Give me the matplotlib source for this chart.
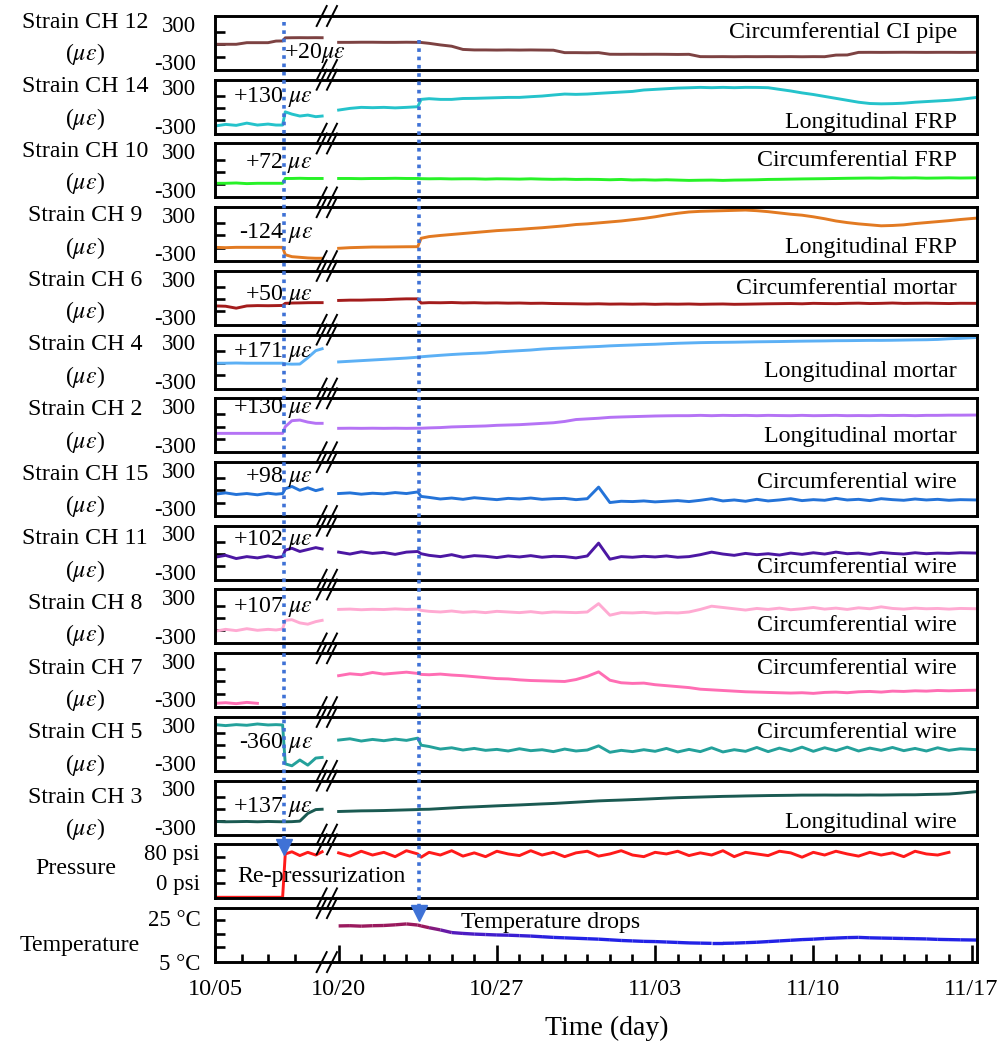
#!/usr/bin/env python3
"""
Strain, pressure and temperature records of the lined pipe (broken time axis).
"""

import numpy as np
import matplotlib
matplotlib.use("Agg")
import matplotlib.pyplot as plt
from matplotlib import transforms
from matplotlib.lines import Line2D
from matplotlib.collections import LineCollection
from matplotlib.colors import LinearSegmentedColormap, Normalize

nan = np.nan

# time in days since 10/05; left block 10/05-10/09, right block 10/20-11/17
t_left = [0, 0.4, 0.8, 1.2, 1.6, 2.0, 2.3, 2.55, 2.65, 2.9, 3.2, 3.5, 3.8, 4.04]
t_right = [15, 15.5, 16, 16.5, 17, 17.5, 18, 18.5, 18.65, 19, 19.5, 20, 20.5, 21,
           21.5, 22, 22.5, 23, 23.5, 24, 24.5, 25, 25.5, 26, 26.5, 27, 27.5, 28,
           28.5, 29, 29.5, 30, 30.5, 31, 31.5, 32, 32.5, 33, 33.5, 34, 34.5, 35,
           35.5, 36, 36.5, 37, 37.5, 38, 38.5, 39, 39.5, 40, 40.5, 41, 41.5, 42,
           42.5, 43.24]

t_repressurization = 2.6
t_temperature_drop = 18.56

date_ticks = [0, 15, 22, 29, 36, 43]
date_labels = ['10/05', '10/20', '10/27', '11/03', '11/10', '11/17']

# strain (micro-strain)
ch12_l = [-20, -20, -20, 5, 5, 5, 30, 32, 80, 82, 83, 82, 83, 82]
ch12_r = [10, 10, 12, 12, 10, 10, 12, 10, 8, -5, -30, -50, -100, -108, -108, -110,
          -108, -110, -108, -110, -112, -150, -150, -152, -150, -175, -176, -175,
          -176, -175, -176, -178, -176, -212, -213, -212, -214, -212, -213, -212,
          -213, -212, -214, -212, -213, -188, -186, -146, -145, -146, -145, -144,
          -145, -146, -145, -145, -146, -145]

ch14_l = [-300, -275, -290, -255, -285, -270, -285, -285, -80, -115, -145, -130, -155, -145]
ch14_r = [-52, -26, -10, -15, -10, -18, -10, 0, 114, 125, 114, 114, 128, 130, 135,
          140, 145, 145, 156, 166, 182, 197, 192, 197, 208, 218, 228, 238, 260, 270,
          280, 290, 295, 301, 296, 301, 296, 301, 300, 296, 270, 245, 215, 190, 160,
          130, 100, 70, 50, 45, 48, 55, 70, 80, 90, 100, 115, 145]

ch10_l = [-200, -200, -195, -205, -200, -200, -200, -200, -125, -125, -122, -125, -125, -125]
ch10_r = [-125, -125, -128, -125, -125, -122, -125, -125, -128, -130, -128, -132,
          -130, -130, -135, -130, -132, -135, -130, -135, -138, -135, -140, -138,
          -140, -145, -140, -148, -145, -150, -145, -150, -155, -152, -150, -155,
          -150, -148, -145, -140, -138, -135, -132, -130, -128, -125, -122, -120,
          -118, -120, -115, -118, -115, -120, -118, -115, -118, -115]

ch9_l = [-205, -210, -205, -205, -205, -205, -205, -205, -320, -350, -360, -370, -375, -375]
ch9_r = [-220, -210, -205, -200, -200, -198, -196, -195, -64, -38, -20, -5, 10, 25,
         40, 55, 65, 75, 88, 100, 115, 130, 150, 160, 175, 190, 205, 225, 245, 270,
         300, 325, 345, 355, 360, 365, 370, 375, 365, 350, 330, 310, 295, 270, 240,
         205, 180, 160, 145, 130, 135, 145, 165, 180, 195, 210, 228, 250]

ch6_l = [-125, -130, -160, -125, -120, -122, -120, -118, -85, -80, -78, -75, -74, -74]
ch6_r = [-40, -35, -35, -30, -28, -20, -15, -15, -80, -74, -76, -72, -78, -75, -80,
         -78, -82, -80, -85, -83, -88, -90, -92, -95, -92, -97, -95, -98, -95, -100,
         -96, -98, -95, -100, -97, -95, -100, -98, -95, -92, -90, -88, -92, -85, -88,
         -90, -85, -82, -88, -85, -80, -86, -84, -82, -85, -88, -84, -85]

ch4_l = [-25, -25, -22, -25, -25, -25, -25, -25, -35, -40, -38, 60, 170, 200]
ch4_r = [-5, 5, 15, 25, 35, 45, 55, 68, 75, 85, 98, 110, 120, 128, 135, 150, 160,
         170, 180, 195, 205, 212, 220, 228, 235, 245, 252, 258, 265, 270, 278, 285,
         290, 295, 298, 300, 302, 305, 308, 310, 312, 315, 318, 320, 322, 325, 326,
         328, 330, 330, 332, 335, 338, 340, 345, 355, 362, 375]

ch2_l = [-125, -125, -125, -125, -125, -125, -125, -125, -21, 72, 82, 50, 31, 31]
ch2_r = [-47, -45, -47, -45, -47, -45, -47, -45, -45, -40, -35, -25, -20, -15, -10,
         0, 5, 10, 20, 30, 40, 60, 90, 100, 110, 124, 130, 135, 140, 145, 148, 150,
         150, 155, 150, 155, 152, 155, 150, 155, 152, 150, 155, 150, 152, 155, 150,
         152, 150, 155, 152, 155, 150, 155, 155, 158, 158, 160]

ch15_l = [-80, -60, -85, -70, -90, -65, -80, -70, 5, 40, -20, 20, -25, 0]
ch15_r = [-70, -60, -80, -65, -75, -55, -70, -45, -115, -130, -155, -140, -160,
          -135, -150, -165, -145, -155, -140, -160, -150, -145, -165, -150, 30, -210,
          -190, -195, -185, -200, -190, -180, -195, -175, -150, -185, -170, -190,
          -160, -185, -170, -150, -180, -165, -175, -145, -170, -160, -180, -150,
          -165, -175, -155, -170, -160, -175, -165, -170]

ch11_l = [-70, -40, -90, -60, -80, -50, -75, -60, 40, 70, 20, 50, 80, 60]
ch11_r = [10, -20, 15, -10, 5, -25, 10, 20, -15, -40, -60, -30, -70, -45, -55, -75,
          -50, -65, -45, -70, -55, -60, -80, -50, 150, -100, -60, -70, -55, -65, -50,
          -70, -60, -30, 10, -20, -40, -10, -30, -15, -35, -5, -25, 0, -20, 10, -15,
          -5, -25, 5, -10, -20, 0, -15, -5, -10, 0, -5]

ch8_l = [-230, -200, -220, -190, -215, -200, -210, -195, -60, -50, -100, -120, -80, -60]
ch8_r = [110, 115, 105, 112, 108, 118, 110, 115, 95, 80, 70, 85, 65, 75, 60, 80, 70,
         60, 75, 55, 70, 65, 60, 70, 200, 20, 60, 55, 65, 50, 60, 55, 70, 110, 160,
         140, 120, 100, 125, 110, 130, 105, 120, 140, 115, 130, 110, 135, 120, 150,
         125, 115, 130, 120, 125, 115, 125, 120]

ch7_l = [-360, -350, -365, -345, -360, nan, nan, nan, nan, nan, nan, nan, nan, nan]
ch7_r = [70, 100, 85, 120, 95, 110, 125, 105, 90, 85, 95, 80, 70, 55, 40, 25, 20, 5,
         -5, -10, -15, -20, 10, 60, 130, 0, -40, -50, -45, -70, -85, -100, -115, -140,
         -150, -160, -170, -180, -185, -190, -195, -200, -195, -205, -190, -185, -195,
         -180, -175, -185, -170, -175, -165, -170, -160, -165, -160, -155]

ch5_l = [300, 285, 300, 290, 310, 295, 300, 295, -310, -340, -250, -330, -220, -210]
ch5_r = [60, 80, 45, 70, 50, 75, 55, 90, -20, -40, -80, -60, -95, -70, -100, -85,
         -110, -75, -105, -90, -120, -80, -110, -95, -30, -130, -100, -120, -90, -115,
         -70, -125, -85, -120, -60, -125, -90, -115, -55, -120, -65, -110, -50, -115,
         -60, -105, -50, -110, -65, -100, -55, -105, -70, -110, -60, -100, -75, -90]

ch3_l = [-215, -220, -218, -215, -220, -215, -218, -220, -220, -218, -210, -90, -30, -25]
ch3_r = [-60, -55, -50, -48, -45, -40, -35, -30, -27, -25, -15, -5, 5, 12, 20, 28,
         35, 42, 50, 58, 65, 75, 85, 95, 105, 112, 118, 125, 132, 140, 148, 155, 160,
         165, 170, 175, 178, 182, 185, 188, 190, 192, 195, 195, 196, 195, 196, 195,
         197, 196, 198, 200, 200, 205, 208, 212, 225, 250]

# pressure (psi)
pres_l = [0, 0, 0, 0, 0, 0, 0, 0, 80, 84, 77, 83, 78, 84]
pres_r = [82, 76, 85, 78, 83, 75, 86, 80, 74, 83, 78, 86, 76, 82, 75, 85, 80, 77, 86,
          78, 83, 75, 82, 85, 76, 80, 86, 78, 75, 83, 80, 85, 77, 82, 78, 86, 75, 83,
          80, 77, 85, 82, 74, 83, 78, 85, 80, 76, 83, 78, 82, 75, 85, 80, 78, 83, nan, nan]

# temperature (deg C), right block only
temp_r = [21.4, 21.5, 21.3, 21.5, 21.6, 21.9, 22.3, 21.8, 21.4, 20.6, 19.6, 18.4,
          18.0, 17.7, 17.5, 17.3, 17.2, 17.0, 16.8, 16.5, 16.2, 16.0, 15.8, 15.6,
          15.4, 15.1, 14.8, 14.6, 14.4, 14.3, 14.1, 13.9, 13.7, 13.6, 13.5, 13.5,
          13.6, 13.8, 14.0, 14.3, 14.6, 14.9, 15.2, 15.4, 15.7, 15.9, 16.1, 16.2,
          16.0, 15.9, 15.8, 15.7, 15.6, 15.5, 15.3, 15.2, 15.1, 15.0]

# (label, left, right, colour, change note, note align, note y, location text, text y)
strain_panels = [
    ('Strain CH 12', ch12_l, ch12_r, '#7d4242', r'+20$\mu\varepsilon$', 'left', 0.31, 'Circumferential CI pipe', 0.69),
    ('Strain CH 14', ch14_l, ch14_r, '#25c3cb', r'+130 $\mu\varepsilon$', 'right', 0.68, 'Longitudinal FRP', 0.21),
    ('Strain CH 10', ch10_l, ch10_r, '#27f227', r'+72 $\mu\varepsilon$', 'right', 0.63, 'Circumferential FRP', 0.69),
    ('Strain CH 9', ch9_l, ch9_r, '#e27a22', r'-124 $\mu\varepsilon$', 'right', 0.52, 'Longitudinal FRP', 0.26),
    ('Strain CH 6', ch6_l, ch6_r, '#a31c1c', r'+50 $\mu\varepsilon$', 'right', 0.55, 'Circumferential mortar', 0.68),
    ('Strain CH 4', ch4_l, ch4_r, '#5cb0f5', r'+171 $\mu\varepsilon$', 'right', 0.68, 'Longitudinal mortar', 0.31),
    ('Strain CH 2', ch2_l, ch2_r, '#b573f5', r'+130 $\mu\varepsilon$', 'right', 0.82, 'Longitudinal mortar', 0.30),
    ('Strain CH 15', ch15_l, ch15_r, '#2473d8', r'+98 $\mu\varepsilon$', 'right', 0.72, 'Circumferential wire', 0.63),
    ('Strain CH 11', ch11_l, ch11_r, '#4c17a3', r'+102 $\mu\varepsilon$', 'right', 0.74, 'Circumferential wire', 0.22),
    ('Strain CH 8', ch8_l, ch8_r, '#ffaad2', r'+107 $\mu\varepsilon$', 'right', 0.68, 'Circumferential wire', 0.34),
    ('Strain CH 7', ch7_l, ch7_r, '#ff6eb4', None, 'right', 0.5, 'Circumferential wire', 0.72),
    ('Strain CH 5', ch5_l, ch5_r, '#24a19b', r'-360 $\mu\varepsilon$', 'right', 0.52, 'Circumferential wire', 0.72),
    ('Strain CH 3', ch3_l, ch3_r, '#1a5a52', r'+137 $\mu\varepsilon$', 'right', 0.51, 'Longitudinal wire', 0.23),
]

W, H = 1007, 1043
AX_L, AX_R = 215, 977
TOP0, STEP, PH = 16, 63.72, 54
FS = 17.2
LW = 2.1

# broken time axis: days -> pixels along the frame
BRK_DAYS = [-10, 0, 4.04, 15, 60]
BRK_PIX = [-265, 0, 107.1, 123.6, 123.6 + 45 * 22.6]


def fwd(d):
    return np.interp(d, BRK_DAYS, BRK_PIX)


def inv(p):
    return np.interp(p, BRK_PIX, BRK_DAYS)


def make_axes(fig, i):
    """Create panel i with the shared broken time scale"""
    top = TOP0 + STEP * i
    ax = fig.add_axes([AX_L / W, 1 - (top + PH) / H, (AX_R - AX_L) / W, PH / H])
    ax.set_xscale('function', functions=(fwd, inv))
    ax.set_xlim(0, 43.24)
    for s in ax.spines.values():
        s.set_linewidth(2.1)
    ax.tick_params(axis='x', which='both', bottom=False, labelbottom=False)
    ax.tick_params(axis='y', which='major', length=0, labelsize=16.5)
    ax.tick_params(axis='y', which='minor', direction='in', length=7, width=1.9, right=False)
    # break marks
    for xc in (0.140, 0.1535):
        for yc in (0.0, 1.0):
            ax.plot([xc - 0.0066, xc + 0.0066], [yc - 0.185, yc + 0.185],
                    transform=ax.transAxes, color='black', lw=1.4,
                    clip_on=False, zorder=6)
    return ax


def row_label(fig, y, lines):
    for k, txt in enumerate(lines):
        fig.text(85 / W, 1 - (y + 32 * k) / H, txt, ha='center', va='center', fontsize=FS)


def main():
    plt.rcParams['font.family'] = ['Liberation Serif', 'DejaVu Serif']
    plt.rcParams['mathtext.fontset'] = 'stix'

    fig = plt.figure(figsize=(W / 100, H / 100), dpi=100)

    # strain panels
    for i, (name, left, right, color, note, note_ha, note_y, where, where_y) in enumerate(strain_panels):
        ax = make_axes(fig, i)
        ax.plot(t_left, left, color=color, lw=LW)
        ax.plot(t_right, right, color=color, lw=LW)
        ax.set_ylim(-420, 420)
        ax.set_yticks([-300, 300])
        ax.set_yticklabels(['-300', '300'])
        ax.set_yticks([170, -20, -210], minor=True)
        ax.tick_params(axis='y', which='major', pad=14)
        if note:
            nx = 0.0906 if note_ha == 'left' else 0.1286
            ax.text(nx, note_y, note, ha=note_ha, va='center', fontsize=FS,
                    transform=ax.transAxes, zorder=7)
        ax.text(0.974, where_y, where, ha='right', va='center', fontsize=FS,
                transform=ax.transAxes, zorder=7)
        row_label(fig, 22 + 64.6 * i, [name, r'($\mu\varepsilon$)'])

    # pressure
    ax = make_axes(fig, 13)
    ax.plot(t_left, pres_l, color='#ff1a1a', lw=LW)
    ax.plot(t_right, pres_r, color='#ff1a1a', lw=LW)
    ax.set_ylim(-2, 97.7)
    ax.set_yticks([])
    ax.set_yticks([74.5, 50.4, 26.4], minor=True)
    ax.text(-0.02, 0.82, '80 psi', ha='right', va='center', fontsize=16.5, transform=ax.transAxes)
    ax.text(-0.02, 0.25, '0 psi', ha='right', va='center', fontsize=16.5, transform=ax.transAxes)
    ax.text(0.029, 0.40, 'Re-pressurization', ha='left', va='center', fontsize=FS,
            transform=ax.transAxes, zorder=7)
    fig.text(76 / W, 1 - 868 / H, 'Pressure', ha='center', va='center', fontsize=FS)

    # temperature, coloured warm -> cold
    ax = make_axes(fig, 14)
    pts = np.column_stack([t_right, temp_r])
    segs = np.stack([pts[:-1], pts[1:]], axis=1)
    cmap = LinearSegmentedColormap.from_list('tc', ['#2222e6', '#5a1ab8', '#9a1a5e'])
    mid = 0.5 * (np.array(temp_r[:-1]) + np.array(temp_r[1:]))
    lc = LineCollection(segs, colors=cmap(Normalize(16.0, 21.0)(mid)), linewidths=2.4)
    ax.add_collection(lc)
    ax.set_ylim(5, 29.5)
    ax.set_yticks([5, 25])
    ax.set_yticklabels(['5 \u00b0C', '25 \u00b0C'])
    ax.set_yticks([24.1, 17.7, 11.9], minor=True)
    ax.tick_params(axis='y', which='major', pad=10.5)
    ax.text(0.323, 0.74, 'Temperature drops', ha='left', va='center', fontsize=FS,
            transform=ax.transAxes, zorder=7)
    fig.text(80 / W, 1 - 945 / H, 'Temperature', ha='center', va='center', fontsize=FS)

    # time axis only on the bottom panel
    ax.tick_params(axis='x', which='both', bottom=True, labelbottom=True, direction='in')
    ax.set_xticks(date_ticks)
    ax.set_xticklabels(date_labels)
    minor_days = [d for d in list(range(1, 4)) + list(range(16, 43)) if d not in date_ticks]
    ax.set_xticks(minor_days, minor=True)
    ax.tick_params(axis='x', which='major', length=12, width=1.9, labelsize=17.5, pad=12)
    ax.tick_params(axis='x', which='minor', length=6, width=1.9)
    fig.text(607 / W, 1 - 1028 / H, 'Time (day)', ha='center', va='center', fontsize=20)

    # event markers running down through the panels
    trans = transforms.blended_transform_factory(ax.transData, fig.transFigure)
    for t_ev, y0, y1 in ((t_repressurization, 22, 847), (t_temperature_drop, 40, 913)):
        fig.add_artist(Line2D([t_ev, t_ev], [1 - y0 / H, 1 - (y1 - 4) / H], transform=trans,
                              color='#3f72d6', lw=2.6, ls=(0, (1, 1.3)), zorder=8))
        fig.add_artist(Line2D([t_ev], [1 - y1 / H], transform=trans, color='#3f72d6',
                              marker='v', markersize=11, ls='none', zorder=8))

    fig.savefig('out.png', dpi=100)


if __name__ == "__main__":
    main()
